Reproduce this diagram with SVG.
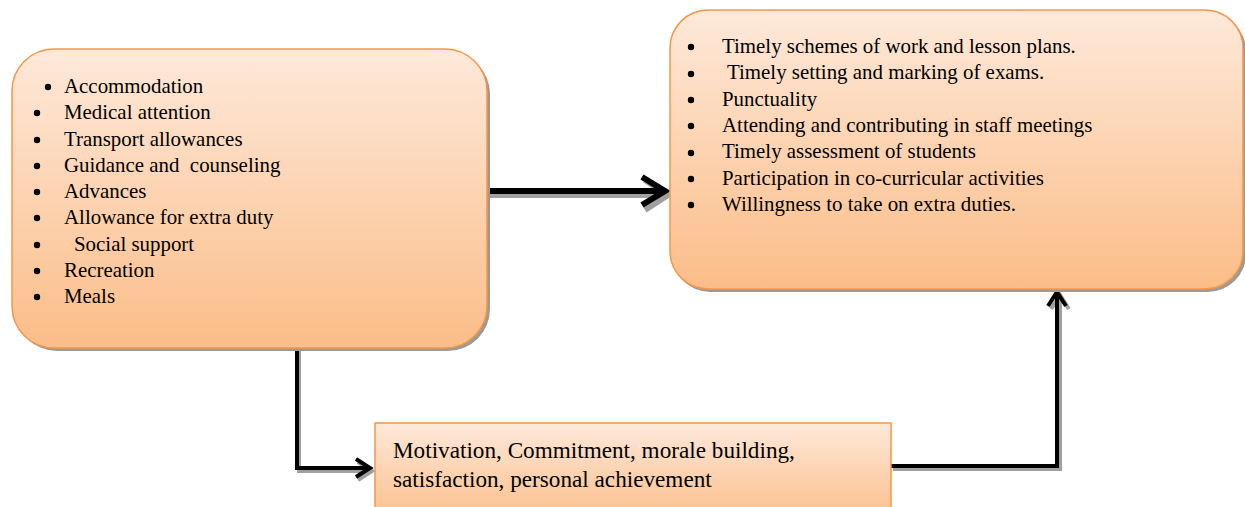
<svg xmlns="http://www.w3.org/2000/svg" width="1245" height="507" viewBox="0 0 1245 507">
<style>
.box{fill:url(#g);stroke:#f79646;stroke-width:1.5}
.sh{fill:#9a9a9a}
.t{font-family:'Liberation Serif','Times New Roman',serif;font-size:20.9px;fill:#000}
.b{font-family:'Liberation Serif','Times New Roman',serif;font-size:23.2px;fill:#000}
.ln{fill:none;stroke:#000;stroke-linecap:butt;stroke-linejoin:miter}
.lns{fill:none;stroke:#a0a0a0;stroke-linejoin:miter}
</style>
<defs>
<linearGradient id="g" x1="0" y1="0" x2="0" y2="1">
<stop offset="0" stop-color="#fee9da"/>
<stop offset="1" stop-color="#fbbd88"/>
</linearGradient>
</defs>
<g id="connectors">
<path class="lns" stroke-width="6" d="M490 195 H668"/>
<path class="lns" stroke-width="6" d="M645 180 L668 195 L645 210"/>
<path class="ln" stroke-width="6" d="M487 191 H665"/>
<path class="ln" stroke-width="6" d="M642 177 L665 191 L642 205"/>
<path class="lns" stroke-width="4" d="M299 350 V471 H372"/>
<path class="lns" stroke-width="4" d="M358 462 L372 471 L358 480"/>
<path class="ln" stroke-width="4" d="M297 350 V468 H370"/>
<path class="ln" stroke-width="4" d="M356 459 L370 468 L356 477"/>
<path class="lns" stroke-width="4" d="M893 469 H1060 V295"/>
<path class="lns" stroke-width="4" d="M1051 309 L1060 295 L1069 309"/>
<path class="ln" stroke-width="4" d="M891 466 H1057 V292"/>
<path class="ln" stroke-width="4" d="M1048 306 L1057 292 L1066 306"/>
</g>
<g id="left-box">
<rect class="sh" x="15" y="52" width="475" height="299" rx="42"/>
<rect class="box" x="12" y="49" width="475" height="299" rx="42"/>
<g fill="#000">
<circle cx="48" cy="87" r="3.2"/><circle cx="37" cy="113" r="3.2"/><circle cx="37" cy="140" r="3.2"/>
<circle cx="37" cy="166" r="3.2"/><circle cx="37" cy="192" r="3.2"/><circle cx="37" cy="218" r="3.2"/>
<circle cx="37" cy="245" r="3.2"/><circle cx="37" cy="271" r="3.2"/><circle cx="37" cy="297" r="3.2"/>
</g>
<g class="t">
<text x="64" y="93">Accommodation</text>
<text x="64" y="119">Medical attention</text>
<text x="64" y="146">Transport allowances</text>
<text x="64" y="172" xml:space="preserve">Guidance and  counseling</text>
<text x="64" y="198">Advances</text>
<text x="64" y="224">Allowance for extra duty</text>
<text x="74" y="251">Social support</text>
<text x="64" y="277">Recreation</text>
<text x="64" y="303">Meals</text>
</g>
</g>
<g id="right-box">
<rect class="sh" x="672" y="13" width="574" height="279" rx="38"/>
<rect class="box" x="670" y="10" width="573" height="279" rx="38"/>
<g fill="#000">
<circle cx="691" cy="47" r="3.2"/><circle cx="691" cy="74" r="3.2"/><circle cx="691" cy="100" r="3.2"/>
<circle cx="691" cy="126" r="3.2"/><circle cx="691" cy="153" r="3.2"/><circle cx="691" cy="179" r="3.2"/>
<circle cx="691" cy="205" r="3.2"/>
</g>
<g class="t">
<text x="722" y="53">Timely schemes of work and lesson plans.</text>
<text x="727" y="79">Timely setting and marking of exams.</text>
<text x="722" y="106">Punctuality</text>
<text x="722" y="132">Attending and contributing in staff meetings</text>
<text x="722" y="158">Timely assessment of students</text>
<text x="722" y="185">Participation in co-curricular activities</text>
<text x="722" y="211">Willingness to take on extra duties.</text>
</g>
</g>
<g id="bottom-box">
<rect class="box" x="375" y="423" width="516" height="100"/>
<text class="b" x="393" y="458">Motivation, Commitment, morale building,</text>
<text class="b" x="393" y="487">satisfaction, personal achievement</text>
</g>
</svg>
